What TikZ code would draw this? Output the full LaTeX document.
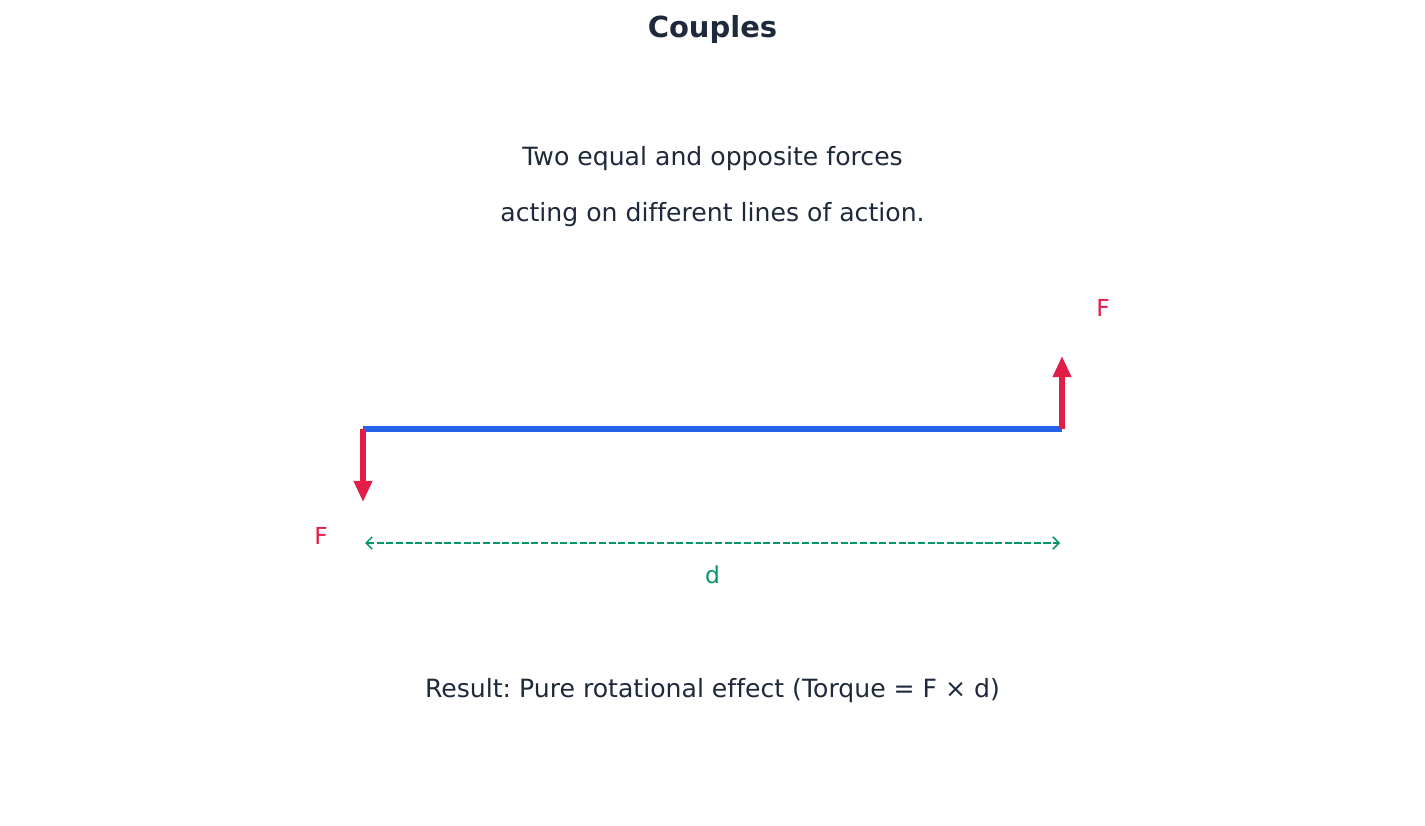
\documentclass[tikz,border=0pt]{standalone}
\usepackage{fontspec}
\setmainfont[Ligatures=NoCommon]{DejaVu Sans}
\usetikzlibrary{arrows.meta}
\frenchspacing

\definecolor{textdark}{HTML}{1E293B}
\definecolor{beamblue}{HTML}{2563EB}
\definecolor{forcered}{HTML}{E11D48}
\definecolor{dimgreen}{HTML}{059669}

\begin{document}
\begin{tikzpicture}
      \useasboundingbox (0, 0) rectangle (28.5, 16.5);
      \tikzset{
        force/.style={forcered, line width=2.9pt, -{Triangle[width=10pt, length=12pt]}},
        forcelabel/.style={text=forcered, font=\fontsize{13.3}{16}\selectfont},
        caption/.style={text=textdark, font=\fontsize{14.3}{17}\selectfont}
      }

      % Texts
      \node[text=textdark, font=\fontsize{16.5}{20}\selectfont\bfseries] (title) at (14.25, 15.90) {Couples};
      \node[caption] (line1) at (14.25, 13.32) {Two equal and opposite forces};
      \node[caption] (line2) at (14.25, 12.20) {acting on different lines of action.};
      \node[caption] (result) at (14.25, 2.68) {Result: Pure rotational effect (Torque = F × d)};

      % Beam
      \def\by{7.92}
      \coordinate (left) at (7.26, \by);
      \coordinate (right) at (21.24, \by);
      \draw[beamblue, line width=2.9pt] (left) -- (right);

      % Forces
      \coordinate (lefttip) at (7.26, 6.46);
      \coordinate (righttip) at (21.24, 9.38);
      \draw[force] (left) -- (lefttip);
      \draw[force] (right) -- (righttip);
      \node[forcelabel] (fleft) at (6.42, 5.78) {F};
      \node[forcelabel] (fright) at (22.06, 10.34) {F};

      % Distance
      \coordinate (dleft) at (7.30, 5.64);
      \coordinate (dright) at (21.20, 5.64);
      \draw[dimgreen, line width=0.9pt, dash pattern=on 4pt off 1.5pt,
            {Straight Barb[length=3.5pt, width=7pt]}-{Straight Barb[length=3.5pt, width=7pt]}]
            (dleft) -- (dright);
      \node[text=dimgreen, font=\fontsize{13.3}{16}\selectfont] (dist) at (14.25, 5.00) {d};
    \end{tikzpicture}
\end{document}
